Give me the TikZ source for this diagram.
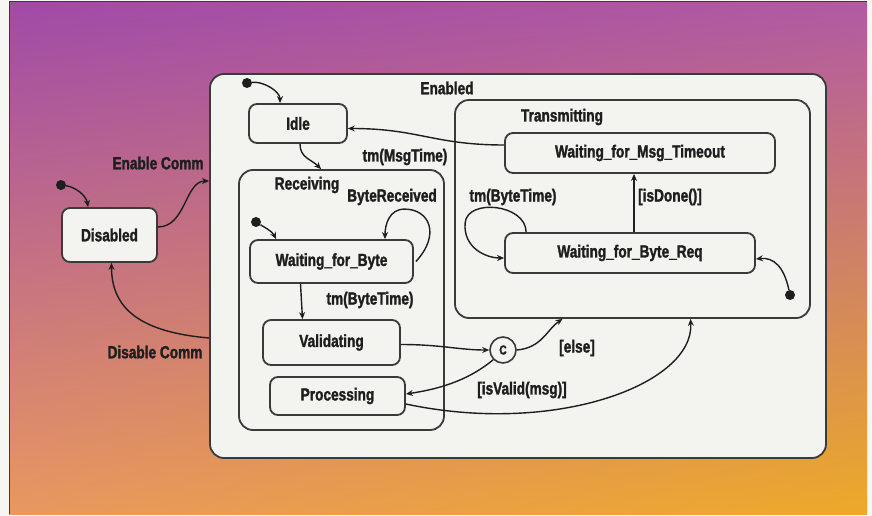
\documentclass[tikz,border=0pt]{standalone}
\usepackage{fontspec}
\setmainfont{Liberation Sans}[FakeStretch=0.78, BoldFeatures={FakeBold=1.6}]
\usetikzlibrary{arrows.meta,calc,shadings}
\definecolor{boxfill}{HTML}{F3F3EF}
\definecolor{boxline}{HTML}{3A3A3A}
\definecolor{ink}{HTML}{1E1E1E}
\definecolor{pageback}{HTML}{F6F6F2}
\definecolor{ulc}{RGB}{160,74,168}
\definecolor{urc}{RGB}{178,90,162}
\definecolor{llc}{RGB}{232,152,96}
\definecolor{lrc}{RGB}{236,170,40}
\begin{document}
\begin{tikzpicture}[x=1pt,y=-1pt,
  txt/.style={font=\fontsize{17.5}{20}\selectfont\bfseries},
  state/.style={draw=boxline, line width=1.8pt, fill=boxfill, rounded corners=8pt, inner sep=0pt, text=ink, txt},
  region/.style={draw=boxline, line width=1.8pt, fill=boxfill, rounded corners=14pt, inner sep=0pt},
  lbl/.style={text=ink, inner sep=0pt, txt},
  edge/.style={draw=ink, line width=1.4pt, -{Stealth[length=7pt,width=6pt]}},
  dot/.style={circle, fill=ink, minimum size=10pt, inner sep=0pt},
]
\useasboundingbox (0,0) rectangle (872,516);
\fill[pageback] (0,0) rectangle (872,516);
\shade[upper left=ulc, upper right=urc, lower left=llc, lower right=lrc] (9,2) rectangle (867,514);
\draw[boxline, line width=1pt] (9,514) -- (9,2) -- (867,2);

% containers
\node[region, minimum width=616pt, minimum height=384pt] (enabled) at (518,266) {};
\node[region, minimum width=355pt, minimum height=218pt] (trans) at (632.5,209) {};
\node[region, minimum width=205pt, minimum height=260pt] (recv) at (341.5,300) {};

% container labels
\node[lbl] (lenabled) at (447,88) {Enabled};
\node[lbl] (ltrans) at (562,117) {Transmitting};
\node[lbl] (lrecv) at (307,185) {Receiving};

% states
\node[state, minimum width=95pt, minimum height=54pt] (disabled) at (109.5,235) {Disabled};
\node[state, minimum width=98pt, minimum height=39pt] (idle) at (298,123.5) {Idle};
\node[state, minimum width=270pt, minimum height=40pt] (wfmt) at (640,153) {Waiting\_for\_Msg\_Timeout};
\node[state, minimum width=250pt, minimum height=40pt] (wfbr) at (630,253) {Waiting\_for\_Byte\_Req};
\node[state, minimum width=163pt, minimum height=43pt] (wfb) at (331.5,261.5) {Waiting\_for\_Byte};
\node[state, minimum width=137pt, minimum height=45pt] (valid) at (331.5,342.5) {Validating};
\node[state, minimum width=135pt, minimum height=38pt] (proc) at (337.5,396) {Processing};
\node[circle, draw=boxline, line width=1.6pt, fill=boxfill, minimum size=26pt, inner sep=0pt, text=ink, font=\fontsize{13}{15}\selectfont\bfseries] (cc) at (503,350) {C};

% initial dots
\node[dot] (i0) at (61,185) {};
\node[dot] (i1) at (247,83) {};
\node[dot] (i2) at (256,222) {};
\node[dot] (i3) at (790,295) {};

% edges
\draw[edge] (i0) .. controls +(14,2) and +(-2,-12) .. ($(disabled.north west)+(27,0)$);
\draw[edge] ($(disabled.east)+(0,-8)$) .. controls +(28,0) and +(-24,0) .. ($(enabled.west)+(0,-85)$);
\draw[edge] ($(enabled.west)+(0,72)$) .. controls +(-70,-6) and +(0,45) .. ($(disabled.south)+(2,0)$);

\draw[edge] (i1) .. controls +(16,-2) and +(0,-12) .. ($(idle.north)+(-18,0)$);
\draw[edge] ($(idle.south)+(2,0)$) .. controls +(0,14) and +(-10,-10) .. ($(recv.north west)+(83,0)$);
\draw[edge] ($(wfmt.west)+(0,-8)$) .. controls +(-70,0) and +(70,0) .. ($(idle.east)+(0,5)$);

\draw[edge] (i3) .. controls +(-6,-28) and +(18,-2) .. ($(wfbr.east)+(0,6)$);
\draw[edge] ($(wfbr.north west)+(22,0)$) .. controls +(0,-28) and +(2,-25) .. ($(wfbr.west)+(-39,-30)$)
   .. controls +(-2,25) and +(-18,0) .. ($(wfbr.west)+(0,5)$);
\draw[edge] ($(wfbr.north)+(4,0)$) -- ($(wfmt.south)+(-6,0)$);

\draw[edge] (i2) .. controls +(8,5) and +(-4,-8) .. ($(wfb.north west)+(27,0)$);
\draw[edge] ($(wfb.east)+(2,0)$) .. controls +(25,-27) and +(25,0) .. ($(wfb.north)+(73,-30)$)
   .. controls +(-15,0) and +(0,-15) .. ($(wfb.north)+(53.5,0)$);
\draw[edge] ($(wfb.south)+(-31,0)$) -- ($(valid.north)+(-29,0)$);

\draw[edge] ($(valid.east)+(0,2)$) .. controls +(40,0) and +(-30,0) .. (cc.west);
\draw[edge] (cc.east) .. controls +(25,-2) and +(-15,10) .. ($(trans.south)+(-70,0)$);
\draw[edge] (cc.south west) .. controls +(-22,18) and +(40,-6) .. ($(proc.east)+(0,-2)$);
\draw[edge] ($(proc.east)+(0,8)$) .. controls +(150,32) and +(4,65) .. ($(trans.south)+(58,0)$);

% transition labels
\node[lbl] (lec) at (158,163) {Enable Comm};
\node[lbl] (ldc) at (155,352) {Disable Comm};
\node[lbl] (lmsg) at (405,157) {tm(MsgTime)};
\node[lbl] (lbyterec) at (392,197) {ByteReceived};
\node[lbl] (lbt1) at (370,300) {tm(ByteTime)};
\node[lbl] (lbt2) at (513,197) {tm(ByteTime)};
\node[lbl] (ldone) at (670,197) {[isDone()]};
\node[lbl] (lelse) at (577,348) {[else]};
\node[lbl] (lvalid) at (522,390) {[isValid(msg)]};
\end{tikzpicture}
\end{document}
